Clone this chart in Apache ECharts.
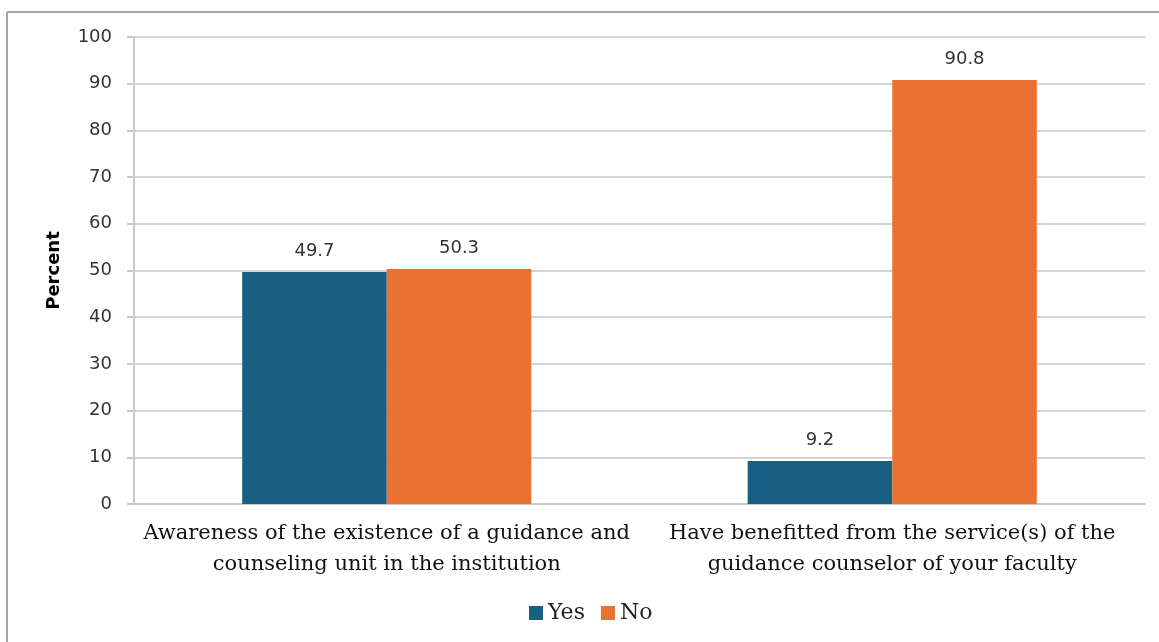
<!DOCTYPE html>
<html>
<head>
<meta charset="utf-8">
<script src="https://cdn.jsdelivr.net/npm/echarts@6/dist/echarts.min.js"></script>
<style>
  html, body { margin: 0; padding: 0; background: #fff; }
  #chart { width: 1159px; height: 642px; }
</style>
</head>
<body>
<div id="chart"></div>
<script>
// Survey items (two-line labels) and the share of respondents per answer
const categories = [
  'Awareness of the existence of a guidance and\ncounseling unit in the institution',
  'Have benefitted from the service(s) of the\nguidance counselor of your faculty'
];
const yesValues = [49.7, 9.2];
const noValues = [50.3, 90.8];
const seriesNames = ['Yes', 'No'];

const sansFont = '"DejaVu Sans", sans-serif';
const serifFont = '"DejaVu Serif", serif';

const chart = echarts.init(document.getElementById('chart'), null, { renderer: 'canvas' });

chart.setOption({
  animation: false,
  backgroundColor: '#ffffff',
  graphic: [
    { type: 'line', shape: { x1: 7, y1: 12, x2: 1159, y2: 12 }, style: { stroke: '#a6a6a6', lineWidth: 2 } },
    { type: 'line', shape: { x1: 7, y1: 12, x2: 7, y2: 642 }, style: { stroke: '#a6a6a6', lineWidth: 2 } }
  ],
  grid: { left: 134, right: 14, top: 37, bottom: 138, containLabel: false },
  legend: {
    top: 597,
    left: 524,
    itemWidth: 14,
    itemHeight: 14,
    itemGap: 16,
    icon: 'rect',
    textStyle: { fontFamily: serifFont, fontSize: 22, color: '#222' },
    data: seriesNames
  },
  xAxis: {
    type: 'category',
    data: categories,
    axisLine: { lineStyle: { color: '#c9c9c9', width: 2 } },
    axisTick: { show: false },
    axisLabel: {
      fontFamily: serifFont,
      fontSize: 21,
      color: '#111',
      lineHeight: 31,
      margin: 14,
      interval: 0
    }
  },
  yAxis: {
    type: 'value',
    min: 0,
    max: 100,
    interval: 10,
    name: 'Percent',
    nameLocation: 'middle',
    nameGap: 71,
    nameRotate: 90,
    nameTextStyle: { fontFamily: sansFont, fontSize: 18, fontWeight: 'bold', color: '#000' },
    axisLine: { show: true, lineStyle: { color: '#c9c9c9', width: 2 } },
    axisTick: { show: true, length: 7, lineStyle: { color: '#c9c9c9', width: 2 } },
    axisLabel: { fontFamily: sansFont, fontSize: 18, color: '#333', margin: 22 },
    splitLine: { lineStyle: { color: '#d4d4d4', width: 2 } }
  },
  series: [
    {
      name: seriesNames[0],
      type: 'bar',
      data: yesValues,
      barWidth: '28.6%',
      barGap: '0%',
      itemStyle: { color: '#176082' },
      label: {
        show: true,
        position: 'top',
        distance: 12,
        fontFamily: sansFont,
        fontSize: 18,
        color: '#333'
      }
    },
    {
      name: seriesNames[1],
      type: 'bar',
      data: noValues,
      barWidth: '28.6%',
      barGap: '0%',
      itemStyle: { color: '#e97132' },
      label: {
        show: true,
        position: 'top',
        distance: 12,
        fontFamily: sansFont,
        fontSize: 18,
        color: '#333'
      }
    }
  ]
});
</script>
</body>
</html>
